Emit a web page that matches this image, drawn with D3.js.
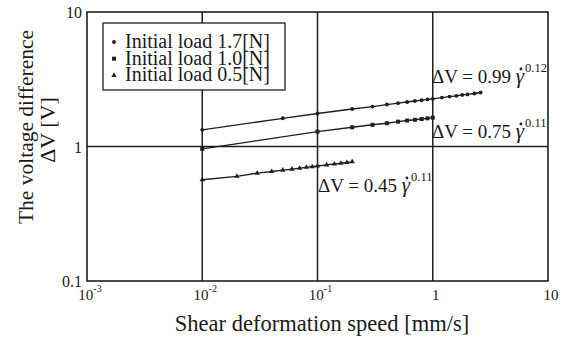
<!DOCTYPE html>
<html><head><meta charset="utf-8">
<script src="https://cdn.jsdelivr.net/npm/d3@7"></script>
<style>body{margin:0;background:#fff}svg{display:block;font-family:"Liberation Serif","Times New Roman",Times,serif}svg text{font-family:"Liberation Serif","Times New Roman",Times,serif;fill:#1a1a1a}</style>
</head><body>
<script>
// Data
const seriesNames = ["Initial load 1.7[N]", "Initial load 1.0[N]", "Initial load 0.5[N]"];
const speed17 = [0.01,0.05,0.1,0.2,0.3,0.4,0.5,0.6,0.7,0.8,0.9,1.0,1.2,1.4,1.6,1.8,2.0,2.3,2.6];
const volt17  = [1.33,1.62,1.76,1.90,1.98,2.05,2.10,2.14,2.18,2.21,2.24,2.26,2.31,2.35,2.38,2.42,2.44,2.48,2.52];
const speed10 = [0.01,0.1,0.2,0.3,0.4,0.5,0.6,0.7,0.8,0.9,1.0];
const volt10  = [0.96,1.29,1.39,1.45,1.49,1.53,1.56,1.58,1.60,1.62,1.64];
const speed05 = [0.01,0.02,0.03,0.04,0.05,0.06,0.07,0.08,0.09,0.1,0.12,0.14,0.16,0.18,0.2];
const volt05  = [0.566,0.60,0.634,0.652,0.667,0.679,0.690,0.700,0.708,0.716,0.730,0.741,0.751,0.760,0.769];
const xTicks = [0.001,0.01,0.1,1,10];
const xTickLabels = [["10","-3"],["10","-2"],["10","-1"],["1",""],["10",""]];
const yTicks = [0.1,1,10];
const yTickLabels = ["0.1","1","10"];
const fitCoef = ["0.99","0.75","0.45"];
const fitExp = ["0.12","0.11","0.11"];

const W=565,H=337;
const m={l:87,r:17,t:12,b:56};
const FF='"Liberation Serif","Times New Roman",Times,serif';
const svg=d3.select("body").append("svg").attr("width",W).attr("height",H).attr("font-family",FF);
const x=d3.scaleLog().domain([0.001,10]).range([m.l,W-m.r]);
const y=d3.scaleLog().domain([0.1,10]).range([H-m.b,m.t]);
const ink="#1f1f1f";

// grid
svg.append("g").selectAll("line").data(xTicks.slice(1,-1)).join("line")
  .attr("x1",d=>x(d)).attr("x2",d=>x(d)).attr("y1",y(10)).attr("y2",y(0.1))
  .attr("stroke",ink).attr("stroke-width",1.5);
svg.append("g").selectAll("line").data(yTicks.slice(1,-1)).join("line")
  .attr("y1",d=>y(d)).attr("y2",d=>y(d)).attr("x1",x(0.001)).attr("x2",x(10))
  .attr("stroke",ink).attr("stroke-width",1.5);
// frame
svg.append("rect").attr("x",x(0.001)).attr("y",y(10)).attr("width",x(10)-x(0.001)).attr("height",y(0.1)-y(10))
  .attr("fill","none").attr("stroke",ink).attr("stroke-width",1.6);

// y tick labels
svg.append("g").selectAll("text").data(yTicks).join("text")
  .attr("x",x(0.001)-5).attr("y",d=>y(d)+6).attr("text-anchor","end")
  .style("font-size","16px").text((d,i)=>yTickLabels[i]);
// x tick labels
const xt=svg.append("g").selectAll("text").data(xTicks).join("text")
  .attr("x",d=>x(d)+3).attr("y",H-m.b+19).attr("text-anchor","middle").style("font-size","15px");
xt.append("tspan").text((d,i)=>xTickLabels[i][0]);
xt.append("tspan").attr("dy",-8).style("font-size","10px").text((d,i)=>xTickLabels[i][1]);

// axis titles
svg.append("text").attr("x",322).attr("y",331).attr("text-anchor","middle")
  .style("font-size","22.5px").text("Shear deformation speed [mm/s]");
svg.append("text").attr("transform","translate(33,127) rotate(-90)").attr("text-anchor","middle")
  .style("font-size","21.5px").text("The voltage difference");
svg.append("text").attr("transform","translate(55,130) rotate(-90)").attr("text-anchor","middle")
  .style("font-size","22px").text("ΔV [V]");

// series
const sets=[[speed17,volt17,"circle"],[speed10,volt10,"square"],[speed05,volt05,"triangle"]];
const line=d3.line().x(d=>x(d[0])).y(d=>y(d[1]));
const sym={circle:d3.symbolCircle,square:d3.symbolSquare,triangle:d3.symbolTriangle};
const symSize={circle:12,square:16,triangle:12};
sets.forEach(([xs,ys,s])=>{
  const pts=xs.map((v,i)=>[v,ys[i]]);
  svg.append("path").datum(pts).attr("d",line).attr("fill","none").attr("stroke",ink).attr("stroke-width",1.4);
  svg.append("g").selectAll("path").data(pts).join("path")
    .attr("transform",d=>`translate(${x(d[0])},${y(d[1])})`)
    .attr("d",d3.symbol().type(sym[s]).size(symSize[s])).attr("fill",ink);
});

// fit annotations: ΔV = a γ̇^b
const annPos=[[432,83],[432,138],[318,192]];
annPos.forEach((p,i)=>{
  const pre="ΔV = "+fitCoef[i]+" ";
  const t=svg.append("text").attr("x",p[0]).attr("y",p[1]).style("font-size","19px");
  t.append("tspan").text(pre);
  t.append("tspan").style("font-style","italic").style("font-size","21px").text("γ");
  t.append("tspan").attr("dx",1).attr("dy",-11).style("font-size","12.5px").text(fitExp[i]);
  const ext=t.node().getExtentOfChar(pre.length);
  svg.append("circle").attr("cx",ext.x+ext.width*0.62).attr("cy",p[1]-14).attr("r",1.4).attr("fill",ink);
});

// legend
const lg=svg.append("g");
lg.append("rect").attr("x",103).attr("y",23).attr("width",182).attr("height",67)
  .attr("fill","#fff").attr("stroke",ink).attr("stroke-width",1.3);
seriesNames.forEach((n,i)=>{
  const yy=42+i*16.7;
  lg.append("path").attr("transform",`translate(114,${yy})`)
    .attr("d",d3.symbol().type(sym[sets[i][2]]).size(symSize[sets[i][2]])).attr("fill",ink);
  lg.append("text").attr("x",125).attr("y",yy+6).style("font-size","20px").text(n);
});
</script>
</body></html>
